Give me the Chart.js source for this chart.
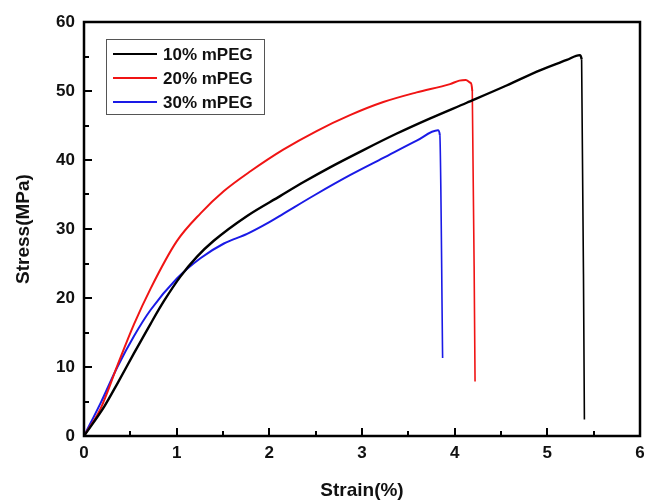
<!DOCTYPE html>
<html><head><meta charset="utf-8">
<script src="https://cdn.jsdelivr.net/npm/chart.js@4.4.1/dist/chart.umd.min.js"></script>
<style>html,body{margin:0;padding:0;background:#fff}#wrap{width:646px;height:502px}</style>
</head><body><div id="wrap"><canvas id="c" width="646" height="502"></canvas></div>
<script>
const seriesLabels = ['10% mPEG', '20% mPEG', '30% mPEG'];
const seriesColors = ['#000000', '#f01414', '#1a1ae6'];

const strain10 = [0, 0.22, 0.36, 0.54, 0.72, 0.86, 1.04, 1.22, 1.40, 1.76, 2.12, 2.37, 2.65, 3.01, 3.37, 3.73, 4.13, 4.56, 4.92, 5.21, 5.35, 5.37, 5.40];
const stress10 = [0, 4.3, 7.6, 12.0, 16.3, 19.5, 23.1, 26.0, 28.3, 31.9, 34.8, 36.8, 38.9, 41.4, 43.8, 46.0, 48.3, 50.8, 53.0, 54.5, 55.2, 54.6, 2.4];

const strain20 = [0, 0.18, 0.36, 0.54, 0.72, 1.0, 1.26, 1.51, 1.80, 2.15, 2.51, 2.87, 3.23, 3.59, 3.95, 4.05, 4.12, 4.17, 4.19, 4.22];
const stress20 = [0, 4.0, 10.2, 16.2, 21.4, 28.2, 32.3, 35.5, 38.4, 41.5, 44.2, 46.5, 48.4, 49.8, 51.0, 51.5, 51.6, 51.2, 50.0, 7.9];

const strain30 = [0, 0.18, 0.36, 0.54, 0.72, 1.0, 1.26, 1.51, 1.76, 2.0, 2.15, 2.50, 2.87, 3.23, 3.59, 3.82, 3.84, 3.87];
const stress30 = [0, 4.8, 10.0, 14.5, 18.3, 22.8, 25.8, 27.9, 29.3, 31.0, 32.2, 35.0, 37.8, 40.3, 42.8, 44.3, 43.6, 11.3];

const xTickValues = [0, 1, 2, 3, 4, 5, 6];
const yTickValues = [0, 10, 20, 30, 40, 50, 60];
const xMinorStep = 0.5;
const yMinorStep = 5;

function pts(xs, ys) { return xs.map((v, i) => ({ x: v, y: ys[i] })); }

const FONT = "'Liberation Sans', Arial, sans-serif";

const framePlugin = {
  id: 'frame',
  afterDatasetsDraw(chart) {
    const { ctx, chartArea: { left, right, top, bottom }, scales: { x, y } } = chart;
    ctx.save();
    ctx.strokeStyle = '#000';
    ctx.lineWidth = 2;
    ctx.beginPath();
    const xMin = xTickValues[0], xMax = xTickValues[xTickValues.length - 1];
    for (let v = xMin; v <= xMax + 1e-9; v += xMinorStep) {
      const px = Math.round(x.getPixelForValue(v));
      const major = xTickValues.includes(Math.round(v * 100) / 100);
      ctx.moveTo(px, bottom);
      ctx.lineTo(px, bottom - (major ? 8 : 5));
    }
    const yMin = yTickValues[0], yMax = yTickValues[yTickValues.length - 1];
    for (let v = yMin; v <= yMax + 1e-9; v += yMinorStep) {
      const py = Math.round(y.getPixelForValue(v));
      const major = yTickValues.includes(v);
      ctx.moveTo(left, py);
      ctx.lineTo(left + (major ? 8 : 5), py);
    }
    ctx.stroke();
    ctx.lineWidth = 2.5;
    ctx.strokeRect(left, top, right - left, bottom - top);

    // legend
    const lx = 106, ly = 39, lw = 158, lh = 75;
    ctx.fillStyle = '#fff';
    ctx.fillRect(lx, ly, lw, lh);
    ctx.lineWidth = 1;
    ctx.strokeStyle = '#555';
    ctx.strokeRect(lx + 0.5, ly + 0.5, lw, lh);
    const rows = [54, 78, 102];
    ctx.font = 'bold 17px ' + FONT;
    ctx.textBaseline = 'middle';
    ctx.textAlign = 'left';
    chart.data.datasets.forEach((ds, i) => {
      ctx.strokeStyle = ds.borderColor;
      ctx.lineWidth = 2;
      ctx.beginPath();
      ctx.moveTo(113, rows[i]);
      ctx.lineTo(157, rows[i]);
      ctx.stroke();
      ctx.fillStyle = '#111';
      ctx.fillText(ds.label, 163, rows[i] + 1);
    });
    ctx.restore();
  }
};

const dropWidth = (normal) => ({
  borderWidth: c => (c.p0.parsed.y - c.p1.parsed.y > 20 ? 1.6 : normal)
});

const datasets = [
  { label: seriesLabels[0], data: pts(strain10, stress10), borderColor: seriesColors[0], borderWidth: 2.4, segment: dropWidth(2.4) },
  { label: seriesLabels[1], data: pts(strain20, stress20), borderColor: seriesColors[1], borderWidth: 2, segment: dropWidth(2) },
  { label: seriesLabels[2], data: pts(strain30, stress30), borderColor: seriesColors[2], borderWidth: 2, segment: dropWidth(2) }
].map(d => Object.assign(d, {
  showLine: true, pointRadius: 0, fill: false, cubicInterpolationMode: 'monotone'
}));

new Chart(document.getElementById('c'), {
  type: 'scatter',
  data: { datasets },
  options: {
    responsive: false,
    animation: false,
    layout: { padding: { top: 22, right: 6, left: 0, bottom: 0 } },
    plugins: { legend: { display: false }, tooltip: { enabled: false } },
    scales: {
      x: {
        type: 'linear', min: 0, max: 6,
        afterBuildTicks: s => { s.ticks = xTickValues.map(v => ({ value: v })); },
        ticks: { font: { family: FONT, size: 17, weight: 'bold' }, color: '#111', padding: 7 },
        grid: { display: false, drawTicks: false },
        border: { display: false },
        title: { display: true, text: 'Strain(%)', font: { family: FONT, size: 19, weight: 'bold' }, color: '#111', padding: { top: 0, bottom: 0 } },
        afterFit: s => { s.height = 66; s.paddingLeft = 0; s.paddingRight = 0; }
      },
      y: {
        type: 'linear', min: 0, max: 60,
        afterBuildTicks: s => { s.ticks = yTickValues.map(v => ({ value: v })); },
        ticks: { font: { family: FONT, size: 17, weight: 'bold' }, color: '#111', padding: 9 },
        grid: { display: false, drawTicks: false },
        border: { display: false },
        title: { display: true, text: 'Stress(MPa)', font: { family: FONT, size: 19, weight: 'bold' }, color: '#111', padding: { top: 12, bottom: 0 } },
        afterFit: s => { s.width = 84; s.paddingTop = 0; s.paddingBottom = 0; }
      }
    }
  },
  plugins: [framePlugin]
});
</script></body></html>
